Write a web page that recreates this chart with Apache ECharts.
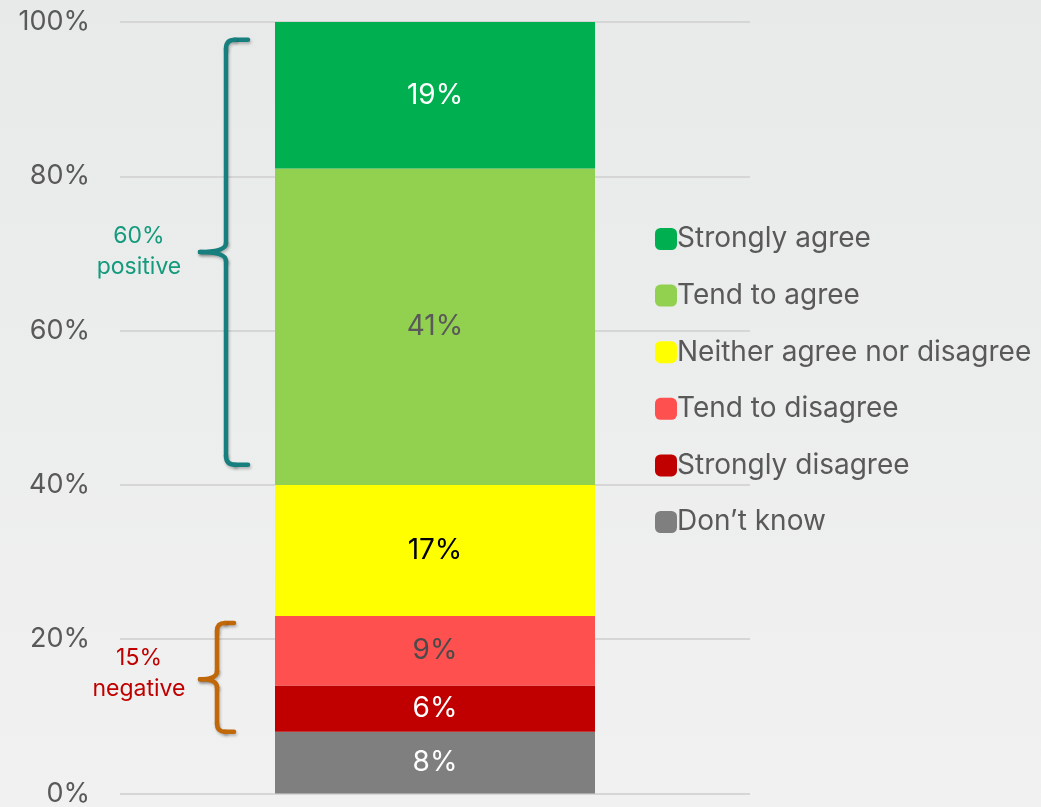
<!DOCTYPE html>
<html>
<head>
<meta charset="utf-8">
<script src="https://cdn.jsdelivr.net/npm/echarts@6/dist/echarts.min.js"></script>
<style>
  html, body { margin: 0; padding: 0; }
  #chart { width: 1041px; height: 807px; }
</style>
</head>
<body>
<div id="chart"></div>
<script>
// Survey response shares (percent), stacked bottom to top
const categories = [''];
const seriesNames = ['Don\u2019t know', 'Strongly disagree', 'Tend to disagree',
  'Neither agree nor disagree', 'Tend to agree', 'Strongly agree'];
const dontKnow = [8];
const stronglyDisagree = [6];
const tendToDisagree = [9];
const neither = [17];
const tendToAgree = [41];
const stronglyAgree = [19];
const yTicks = [0, 20, 40, 60, 80, 100];

const seriesValues = [dontKnow, stronglyDisagree, tendToDisagree, neither, tendToAgree, stronglyAgree];
const seriesColors = ['#7f7f7f', '#c00000', '#ff5050', '#ffff00', '#92d050', '#00b050'];
const labelColors = ['#ffffff', '#ffffff', '#4a4a4a', '#000000', '#595959', '#ffffff'];
const legendOrder = seriesNames.slice().reverse();

const FONT = 'Inter, "Open Sans", sans-serif';
const chart = echarts.init(document.getElementById('chart'));

chart.setOption({
  backgroundColor: new echarts.graphic.LinearGradient(0, 0, 0, 1, [
    { offset: 0, color: '#e8eaea' },
    { offset: 1, color: '#f0f1f0' }
  ]),
  textStyle: { fontFamily: FONT },
  grid: { left: 120, right: 291, top: 22, bottom: 12, containLabel: false },
  legend: {
    orient: 'vertical',
    left: 650,
    top: 220,
    itemWidth: 22,
    itemHeight: 22,
    itemGap: 28.6,
    icon: 'roundRect',
    data: legendOrder,
    selectedMode: false,
    textStyle: { color: '#595959', fontSize: 28, fontFamily: FONT, padding: [0, 0, 0, -5] }
  },
  xAxis: {
    type: 'category',
    data: categories,
    axisLine: { show: false },
    axisTick: { show: false },
    axisLabel: { show: false }
  },
  yAxis: {
    type: 'value',
    min: yTicks[0],
    max: yTicks[yTicks.length - 1],
    interval: 20,
    axisLine: { show: false },
    axisTick: { show: false },
    axisLabel: {
      formatter: '{value}%',
      color: '#595959',
      fontSize: 27,
      fontFamily: FONT,
      margin: 30
    },
    splitLine: { lineStyle: { color: '#d6d6d6', width: 2 } }
  },
  series: seriesNames.map((name, i) => ({
    name: name,
    type: 'bar',
    stack: 'total',
    barWidth: 320,
    data: seriesValues[i],
    itemStyle: { color: seriesColors[i] },
    label: {
      show: true,
      position: 'inside',
      formatter: '{c}%',
      color: labelColors[i],
      fontSize: 28,
      fontFamily: FONT
    }
  }))
});

// Curly braces grouping the positive and negative responses, built from
// straight strokes and quadratic corners
function braceParts(xv, xr, xt, yT, yM, yB, r, color) {
  const style = {
    stroke: color, lineWidth: 4.5, lineCap: 'round', fill: 'none',
    shadowBlur: 3, shadowColor: 'rgba(0,0,0,0.25)', shadowOffsetX: 1, shadowOffsetY: 2
  };
  const line = (x1, y1, x2, y2) => ({ type: 'line', shape: { x1, y1, x2, y2 }, style });
  const curve = (x1, y1, cx, cy, x2, y2) => ({
    type: 'bezierCurve', shape: { x1, y1, x2, y2, cpx1: cx, cpy1: cy }, style
  });
  return [
    line(xr, yT, xv + r, yT),
    curve(xv + r, yT, xv, yT, xv, yT + r),
    line(xv, yT + r, xv, yM - r),
    curve(xv, yM - r, xv, yM, xt, yM),
    curve(xt, yM, xv, yM, xv, yM + r),
    line(xv, yM + r, xv, yB - r),
    curve(xv, yB - r, xv, yB, xv + r, yB),
    line(xv + r, yB, xr, yB)
  ];
}
function yPx(v) { return chart.convertToPixel({ yAxisIndex: 0 }, v); }

const posTop = yPx(97.7), posMid = yPx(70.2), posBot = yPx(42.6);
const negTop = yPx(22.1), negMid = yPx(14.8), negBot = yPx(8.0);

chart.setOption({
  graphic: [].concat(
    braceParts(226, 248, 200, posTop, posMid, posBot, 9, '#17807f'),
    braceParts(217, 234, 200, negTop, negMid, negBot, 8, '#c0680a'),
    [
      {
        type: 'text',
        x: 139,
        y: posMid - 31,
        style: {
          text: '60%\npositive',
          fill: '#149a7c',
          font: '23px ' + FONT,
          align: 'center',
          verticalAlign: 'top',
          lineHeight: 31
        }
      },
      {
        type: 'text',
        x: 139,
        y: negMid - 37,
        style: {
          text: '15%\nnegative',
          fill: '#c00000',
          font: '23px ' + FONT,
          align: 'center',
          verticalAlign: 'top',
          lineHeight: 31
        }
      }
    ]
  )
});
</script>
</body>
</html>
